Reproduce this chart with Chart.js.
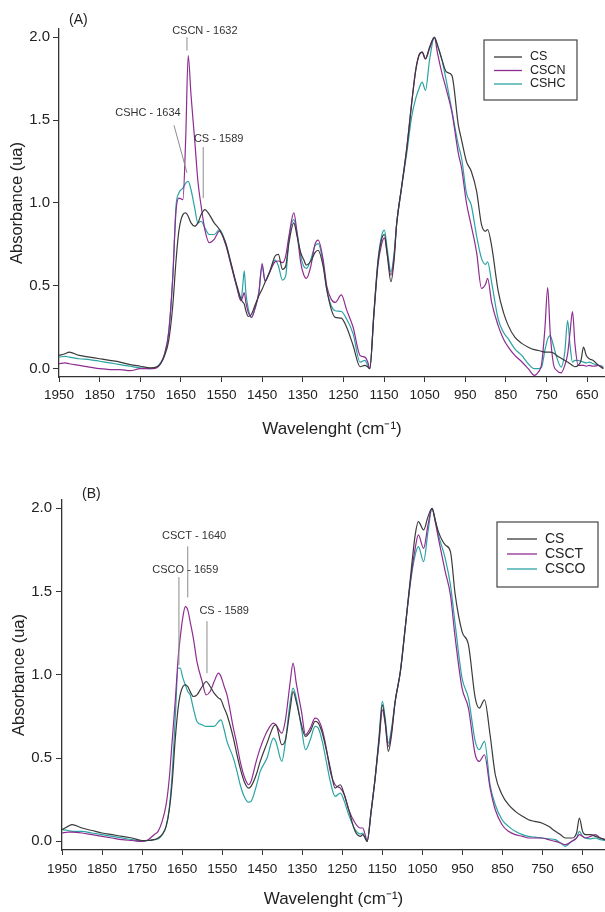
<!DOCTYPE html>
<html>
<head>
<meta charset="utf-8">
<script src="https://cdn.jsdelivr.net/npm/chart.js@4.4.1/dist/chart.umd.min.js"></script>
<style>
  html, body { margin: 0; padding: 0; background: #fff; }
  canvas { display: block; }
</style>
</head>
<body>
<canvas id="chartA" width="605" height="456"></canvas>
<canvas id="chartB" width="605" height="456"></canvas>
<script>
// ---- data ----
const waveA = [1950,1935,1925,1900,1875,1850,1825,1800,1775,1750,
  1725,1710,1700,1690,1680,1670,1662,1655,1645,1638,
  1632,1625,1616,1608,1600,1591,1580,1568,1555,1540,
  1525,1512,1502,1497,1494,1490,1484,1476,1468,1458,
  1450,1443,1432,1418,1410,1400,1392,1384,1372,1364,
  1355,1348,1341,1330,1320,1312,1300,1291,1280,1270,
  1255,1242,1226,1209,1197,1190,1185,1175,1165,1156,
  1149,1142,1133,1125,1119,1107,1094,1082,1072,1064,
  1056,1048,1038,1026,1018,1008,996,983,967,959,
  947,935,922,910,900,895,885,869,856,844,
  828,811,795,780,770,762,754,747,741,733,
  725,714,705,698,692,686,680,672,665,659,
  652,645,635,622,610];

const csA = [0.08,0.09,0.10,0.08,0.07,0.06,0.05,0.04,0.025,0.015,
  0.005,0.01,0.03,0.08,0.17,0.38,0.65,0.83,0.93,0.94,
  0.92,0.88,0.86,0.88,0.93,0.96,0.93,0.88,0.84,0.76,
  0.62,0.50,0.42,0.40,0.39,0.35,0.315,0.33,0.38,0.44,
  0.48,0.52,0.58,0.68,0.69,0.60,0.62,0.76,0.88,0.80,
  0.70,0.66,0.626,0.65,0.70,0.715,0.62,0.48,0.36,0.31,
  0.305,0.25,0.14,0.012,0.02,0.01,0.0,0.33,0.64,0.78,
  0.81,0.69,0.525,0.66,0.87,1.09,1.33,1.60,1.80,1.89,
  1.91,1.87,1.94,2.0,1.95,1.87,1.79,1.77,1.47,1.38,
  1.25,1.19,1.07,0.87,0.83,0.84,0.74,0.47,0.34,0.26,
  0.19,0.153,0.13,0.115,0.11,0.105,0.10,0.10,0.10,0.095,
  0.08,0.063,0.05,0.04,0.03,0.02,0.012,0.02,0.05,0.13,
  0.08,0.06,0.05,0.02,0.0];

const cscnA = [0.03,0.035,0.03,0.02,0.01,0.0,-0.005,-0.005,-0.012,0.0,
  0.0,0.005,0.03,0.09,0.22,0.55,0.95,1.03,1.02,1.40,
  1.89,1.65,1.38,1.13,0.98,0.84,0.76,0.78,0.83,0.75,
  0.61,0.49,0.41,0.44,0.46,0.40,0.34,0.31,0.36,0.46,
  0.635,0.53,0.58,0.645,0.65,0.64,0.68,0.80,0.94,0.82,
  0.64,0.57,0.545,0.62,0.75,0.776,0.66,0.50,0.42,0.40,
  0.445,0.355,0.25,0.08,0.07,0.04,0.0,0.32,0.62,0.75,
  0.79,0.69,0.565,0.68,0.87,1.09,1.33,1.60,1.80,1.89,
  1.91,1.87,1.93,2.0,1.90,1.79,1.68,1.55,1.30,1.21,
  1.00,0.86,0.70,0.485,0.51,0.545,0.40,0.26,0.18,0.13,
  0.08,0.042,0.0,-0.04,-0.02,0.03,0.24,0.49,0.22,0.03,
  -0.01,-0.025,0.02,0.09,0.22,0.345,0.15,0.02,0.02,0.02,
  0.015,0.02,0.015,0.02,0.005];

const cshcA = [0.07,0.075,0.07,0.06,0.055,0.045,0.035,0.025,0.015,0.005,
  0.0,0.01,0.035,0.09,0.22,0.55,0.98,1.06,1.09,1.12,
  1.13,1.08,0.97,0.88,0.89,0.85,0.81,0.81,0.84,0.76,
  0.62,0.49,0.41,0.52,0.59,0.46,0.36,0.31,0.36,0.46,
  0.62,0.53,0.58,0.655,0.62,0.535,0.56,0.78,0.90,0.82,
  0.68,0.62,0.605,0.66,0.74,0.755,0.64,0.48,0.38,0.35,
  0.345,0.30,0.21,0.04,0.05,0.02,0.0,0.33,0.65,0.80,
  0.836,0.72,0.585,0.70,0.87,1.09,1.30,1.52,1.63,1.69,
  1.73,1.68,1.86,2.0,1.95,1.87,1.73,1.56,1.35,1.27,
  1.06,0.985,0.80,0.666,0.63,0.645,0.52,0.30,0.22,0.18,
  0.12,0.08,0.03,0.0,0.0,0.01,0.11,0.18,0.20,0.14,
  0.07,0.01,0.10,0.29,0.14,0.04,0.05,0.05,0.045,0.04,
  0.035,0.04,0.03,0.02,0.015];

const waveB = [1950,1935,1925,1900,1875,1850,1825,1800,1775,1750,
  1735,1720,1710,1700,1690,1682,1675,1667,1660,1655,
  1648,1642,1636,1630,1622,1613,1600,1590,1580,1570,
  1559,1553,1545,1538,1522,1513,1505,1495,1484,1478,
  1465,1455,1438,1422,1416,1401,1392,1380,1373,1365,
  1352,1342,1330,1318,1310,1300,1290,1280,1268,1255,
  1245,1234,1218,1205,1199,1193,1188,1178,1168,1158,
  1150,1143,1135,1127,1118,1105,1093,1080,1068,1060,
  1047,1036,1026,1018,1010,993,980,968,951,935,
  918,908,895,881,868,851,835,818,800,785,
  770,752,735,718,705,693,677,665,658,650,
  643,630,618,606,594];

const csB = [0.07,0.09,0.10,0.08,0.065,0.05,0.04,0.03,0.02,0.005,
  0.005,0.01,0.02,0.04,0.09,0.19,0.35,0.62,0.80,0.88,
  0.93,0.94,0.93,0.90,0.87,0.88,0.93,0.96,0.93,0.89,
  0.86,0.85,0.80,0.76,0.62,0.52,0.44,0.36,0.32,0.33,
  0.40,0.48,0.59,0.69,0.70,0.58,0.61,0.80,0.90,0.84,
  0.70,0.63,0.66,0.72,0.71,0.65,0.55,0.44,0.32,0.34,
  0.28,0.19,0.06,0.03,0.04,0.02,0.0,0.18,0.38,0.62,
  0.82,0.72,0.54,0.64,0.84,1.02,1.28,1.58,1.84,1.92,
  1.87,1.95,2.0,1.93,1.86,1.78,1.74,1.48,1.26,1.18,
  0.86,0.80,0.85,0.64,0.40,0.28,0.22,0.18,0.15,0.13,
  0.12,0.11,0.09,0.06,0.04,0.02,0.02,0.05,0.14,0.06,
  0.04,0.04,0.03,0.02,0.01];

const csctB = [0.05,0.055,0.055,0.05,0.04,0.03,0.02,0.01,0.005,0.0,
  0.01,0.04,0.06,0.12,0.22,0.38,0.60,0.85,1.10,1.22,
  1.35,1.41,1.39,1.32,1.22,1.08,0.96,0.88,0.90,0.96,
  1.01,0.99,0.93,0.88,0.68,0.58,0.48,0.39,0.34,0.36,
  0.48,0.56,0.66,0.71,0.70,0.65,0.73,0.96,1.07,0.95,
  0.78,0.64,0.68,0.74,0.73,0.67,0.56,0.42,0.34,0.32,
  0.28,0.19,0.11,0.08,0.08,0.04,0.0,0.18,0.38,0.60,
  0.79,0.71,0.57,0.66,0.84,1.02,1.28,1.56,1.76,1.84,
  1.76,1.90,2.0,1.92,1.82,1.62,1.48,1.22,0.92,0.80,
  0.52,0.48,0.52,0.32,0.19,0.10,0.06,0.04,0.03,0.02,
  0.02,0.02,0.01,0.0,-0.01,-0.02,0.0,0.02,0.04,0.03,
  0.02,0.03,0.04,0.02,0.01];

const cscoB = [0.07,0.065,0.06,0.06,0.05,0.04,0.03,0.02,0.01,0.0,
  0.005,0.01,0.015,0.04,0.09,0.20,0.40,0.75,1.04,1.04,
  0.98,0.94,0.90,0.88,0.80,0.72,0.70,0.69,0.69,0.69,
  0.72,0.73,0.67,0.60,0.50,0.42,0.34,0.27,0.235,0.24,
  0.33,0.42,0.50,0.62,0.60,0.48,0.60,0.84,0.92,0.86,
  0.68,0.55,0.61,0.69,0.68,0.60,0.48,0.36,0.27,0.29,
  0.24,0.16,0.07,0.045,0.05,0.02,0.0,0.18,0.38,0.64,
  0.84,0.74,0.59,0.68,0.84,1.02,1.28,1.55,1.72,1.77,
  1.68,1.86,2.0,1.93,1.84,1.70,1.54,1.30,0.98,0.86,
  0.60,0.55,0.60,0.34,0.22,0.13,0.09,0.06,0.04,0.03,
  0.025,0.02,0.015,0.01,-0.01,-0.03,0.0,0.02,0.06,0.03,
  0.02,0.015,0.02,0.01,0.005];

const xTicks = [1950,1850,1750,1650,1550,1450,1350,1250,1150,1050,950,850,750,650];
const yTicks = [0, 0.5, 1.0, 1.5, 2.0];

const notesA = [
  { text: 'CSCN - 1632', at: [1591, 2.036], line: [1635, 2.0, 1635, 1.92] },
  { text: 'CSHC - 1634', at: [1731, 1.542], line: [1667, 1.469, 1635, 1.182] },
  { text: 'CS - 1589', at: [1557, 1.389], line: [1595, 1.337, 1595, 1.029] }
];
const notesB = [
  { text: 'CSCT - 1640', at: [1620, 1.833], line: [1636, 1.772, 1636, 1.465] },
  { text: 'CSCO - 1659', at: [1642, 1.628], line: [1658, 1.586, 1658, 1.058] },
  { text: 'CS - 1589', at: [1545, 1.382], line: [1588, 1.322, 1588, 1.01] }
];

const FONT = '"Liberation Sans", Arial, sans-serif';
const AXIS = '#333';
const C_CS = '#3a3a3a', C_PUR = '#8e2c91', C_TEAL = '#2aa3a3';

function series(label, waves, values, color) {
  return {
    label: label,
    data: waves.map((w, i) => ({ x: w, y: values[i] })),
    borderColor: color,
    backgroundColor: color,
    borderWidth: 1.2,
    pointRadius: 0,
    fill: false,
    cubicInterpolationMode: 'monotone'
  };
}

// panel letter, leader-line notes and boxed legend
const extras = {
  id: 'extras',
  afterDatasetsDraw(chart, args, o) {
    const ctx = chart.ctx, xs = chart.scales.x, ys = chart.scales.y;
    ctx.save();
    ctx.fillStyle = '#222';
    ctx.font = '14px ' + FONT;
    ctx.textAlign = 'left';
    ctx.textBaseline = 'middle';
    ctx.fillText(o.panel, o.panelPos[0], o.panelPos[1]);

    o.notes.forEach(n => {
      ctx.font = '11px ' + FONT;
      ctx.fillStyle = '#333';
      ctx.textAlign = 'center';
      ctx.fillText(n.text, xs.getPixelForValue(n.at[0]), ys.getPixelForValue(n.at[1]));
      ctx.strokeStyle = '#8c8c8c';
      ctx.lineWidth = 1;
      ctx.beginPath();
      ctx.moveTo(xs.getPixelForValue(n.line[0]), ys.getPixelForValue(n.line[1]));
      ctx.lineTo(xs.getPixelForValue(n.line[2]), ys.getPixelForValue(n.line[3]));
      ctx.stroke();
    });

    const L = o.legend;
    ctx.strokeStyle = '#444';
    ctx.lineWidth = 1.2;
    ctx.strokeRect(L.box[0], L.box[1], L.box[2], L.box[3]);
    ctx.font = L.size + 'px ' + FONT;
    ctx.textAlign = 'left';
    chart.data.datasets.forEach((ds, i) => {
      const y = L.y0 + i * L.step;
      ctx.strokeStyle = ds.borderColor;
      ctx.lineWidth = 1.3;
      ctx.beginPath();
      ctx.moveTo(L.line[0], y);
      ctx.lineTo(L.line[1], y);
      ctx.stroke();
      ctx.fillStyle = '#222';
      ctx.fillText(ds.label, L.textX, y);
    });
    ctx.restore();
  }
};

function makePanel(id, datasets, cfg) {
  return new Chart(document.getElementById(id), {
    type: 'line',
    data: { datasets: datasets },
    options: {
      responsive: false,
      animation: false,
      layout: { padding: { top: cfg.top, left: 0, right: 0, bottom: 0 } },
      plugins: {
        legend: { display: false },
        tooltip: { enabled: false },
        extras: cfg.extras
      },
      scales: {
        x: {
          type: 'linear',
          reverse: true,
          min: cfg.xMin,
          max: 1950,
          afterBuildTicks: s => { s.ticks = xTicks.map(v => ({ value: v })); },
          afterFit: s => { s.height = cfg.xHeight; },
          grid: { display: true, drawOnChartArea: false, drawTicks: true, tickLength: 5, color: AXIS, lineWidth: 1 },
          border: { display: true, color: AXIS, width: 1.3 },
          ticks: {
            color: '#222', font: { family: FONT, size: 13.5 }, padding: cfg.xPad,
            maxRotation: 0, autoSkip: false, callback: v => String(v)
          },
          title: {
            display: true, text: 'Wavelenght (cm⁻¹)', color: '#222',
            font: { family: FONT, size: 17 }, padding: { top: 0, bottom: cfg.titlePad }
          }
        },
        y: {
          min: cfg.yMin,
          max: 2.05,
          afterBuildTicks: s => { s.ticks = yTicks.map(v => ({ value: v })); },
          afterFit: s => { s.width = cfg.yWidth; },
          grid: { display: true, drawOnChartArea: false, drawTicks: true, tickLength: 6, color: AXIS, lineWidth: 1 },
          border: { display: true, color: AXIS, width: 1.3 },
          ticks: { color: '#222', font: { family: FONT, size: 15 }, padding: cfg.yPad, callback: v => v.toFixed(1) },
          title: {
            display: true, text: 'Absorbance (ua)', color: '#222',
            font: { family: FONT, size: 16.5 }, padding: { top: cfg.yTitlePad, bottom: 0 }
          }
        }
      }
    },
    plugins: [extras]
  });
}

makePanel('chartA', [
  series('CS', waveA, csA, C_CS),
  series('CSCN', waveA, cscnA, C_PUR),
  series('CSHC', waveA, cshcA, C_TEAL)
], {
  top: 29, xMin: 606, yMin: -0.05, xHeight: 79, yWidth: 59, xPad: 5, yPad: 3,
  titlePad: 16, yTitlePad: 8,
  extras: {
    panel: '(A)', panelPos: [69, 20], notes: notesA,
    legend: { box: [484, 40, 93, 60], y0: 57, step: 13.5, line: [494, 522], textX: 530, size: 12.5 }
  }
});

makePanel('chartB', [
  series('CS', waveB, csB, C_CS),
  series('CSCT', waveB, csctB, C_PUR),
  series('CSCO', waveB, cscoB, C_TEAL)
], {
  top: 44, xMin: 594, yMin: -0.052, xHeight: 62, yWidth: 62, xPad: 6, yPad: 4,
  titlePad: 2, yTitlePad: 10,
  extras: {
    panel: '(B)', panelPos: [82, 38], notes: notesB,
    legend: { box: [497, 66, 101, 65], y0: 83, step: 15, line: [507, 537], textX: 545, size: 14 }
  }
});
</script>
</body>
</html>
